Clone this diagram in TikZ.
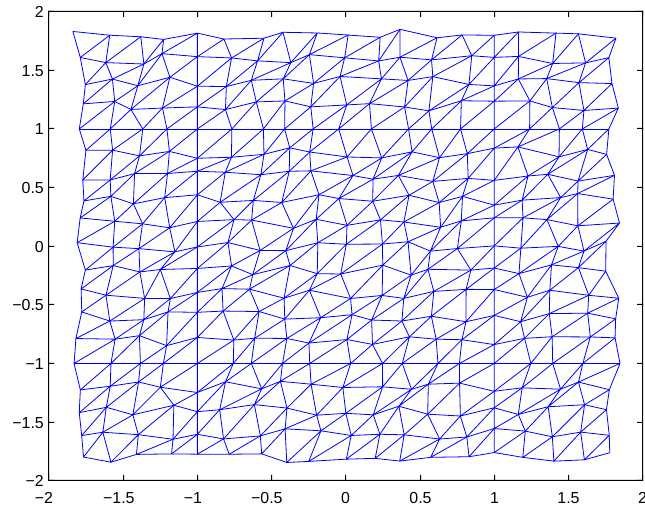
\documentclass[tikz,border=0pt]{standalone}
\usepackage{fontspec}
\setmainfont{Liberation Sans}

\begin{document}
\begin{tikzpicture}[x=1bp,y=1bp,
    mesh/.style={draw=blue,line width=0.8bp,line join=round},
    axisline/.style={draw=black,line width=1bp},
    axisfill/.style={fill=black,even odd rule},
    ticklabel/.style={inner sep=0pt,font=\fontsize{16}{16}\selectfont}]
  \fill[white] (0,0) rectangle (645,506);
  \useasboundingbox (0,0) rectangle (645,506);
  \coordinate (ll) at (48.5,25.5);
  \coordinate (ur) at (642.5,494.5);
  \draw[axisline] (ll) rectangle (ur);
  \foreach \t/\lab [count=\n] in {-2/{\llap{−}2},-1.5/{\llap{−}1.5},-1/{\llap{−}1},
      -0.5/{\llap{−}0.5},0/0,0.5/0.5,1/1,1.5/1.5,2/2}{
    \pgfmathsetmacro{\tx}{floor(345.8+148.42*\t)+0.5}
    \fill[black] (\tx-0.5,25) rectangle (\tx+0.5,31) (\tx-0.5,489) rectangle (\tx+0.5,495);
    \node[ticklabel,anchor=base] (xl\n) at (\tx,2.7) {\lab};
  }
  \foreach \t/\lab [count=\n] in {-2/−2,-1.5/−1.5,-1/−1,-0.5/−0.5,0/0,
      0.5/0.5,1/1,1.5/1.5,2/2}{
    \pgfmathsetmacro{\ty}{floor(259.8+117.25*\t)+0.5}
    \fill[black] (48,\ty-0.5) rectangle (54,\ty+0.5) (637,\ty-0.5) rectangle (643,\ty+0.5);
    \node[ticklabel,anchor=base east] (yl\n) at (44,\ty-5.8) {\lab};
  }
  \begin{scope}[shift={(345.8,259.8)},x=148.42bp,y=117.25bp]
  \pgfmathsetseed{11}
  \foreach \i in {0,...,18}
    \foreach \j in {0,...,18}{
      \pgfmathsetmacro{\dx}{(\i==4 || \i==14) ? 0 : 0.05*rand}
      \pgfmathsetmacro{\dy}{(\j==4 || \j==14) ? 0 : 0.05*rand}
      \coordinate (p\i-\j) at ({-1.8+0.2*\i+\dx},{-1.8+0.2*\j+\dy});
    }
  \foreach \j in {0,...,18}
    \path[mesh] (p0-\j) \foreach \i in {1,...,18}{ -- (p\i-\j) };
  \foreach \j [count=\jj from 1] in {0,...,17}
    \path[mesh] (p0-\jj) -- (p0-\j) \foreach \i in {1,...,18}{ -- (p\i-\jj) -- (p\i-\j) };
  \end{scope}
  \fill[axisfill] (48,25) rectangle (643,495) (49,26) rectangle (642,494);
\end{tikzpicture}
\end{document}
